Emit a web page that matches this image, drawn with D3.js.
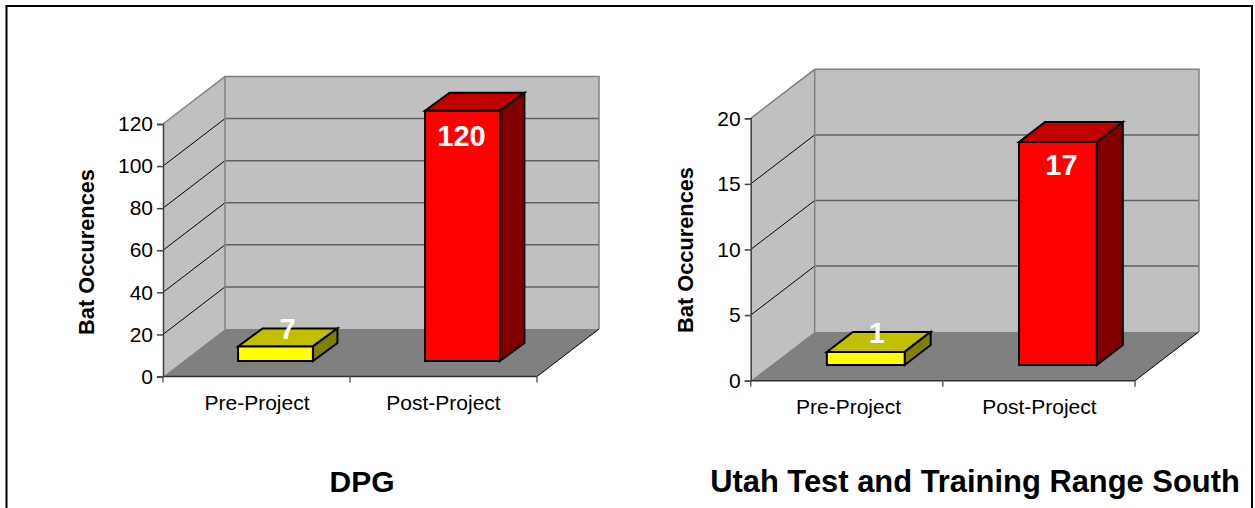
<!DOCTYPE html>
<html><head><meta charset="utf-8">
<script src="https://cdn.jsdelivr.net/npm/d3@7"></script>
<style>html,body{margin:0;padding:0;background:#fff}svg{display:block}text{font-family:"Liberation Sans",Arial,sans-serif}</style>
</head><body><svg id="c" width="1255" height="508"></svg>
<script>
const categories = ["Pre-Project", "Post-Project"];
const dpgValues = [7, 120];
const dpgTicks = [0, 20, 40, 60, 80, 100, 120];
const uttrValues = [1, 17];
const uttrTicks = [0, 5, 10, 15, 20];
const yTitle = "Bat Occurences";
const titleA = "DPG";
const titleB = "Utah Test and Training Range South";

const svg = d3.select("#c");
svg.append("path").attr("d","M6.5,510V6H1252V510").attr("fill","#fff").attr("stroke","#000").attr("stroke-width",2);

function chart(o){
  const g = svg.append("g");
  const x = d3.scaleBand().domain(categories).range([o.x0,o.x1]);
  const y = d3.scaleLinear().domain([0,o.max]).range([o.y0,o.yT]);
  const D = o.dx, H = o.dy;
  const poly = (pts,fill,stroke,sw)=>g.append("polygon").attr("points",pts.map(p=>p.join(",")).join(" ")).attr("fill",fill).attr("stroke",stroke||"none").attr("stroke-width",sw||0).attr("stroke-linejoin","miter");
  const line = (a,b,c,w)=>g.append("line").attr("x1",a[0]).attr("y1",a[1]).attr("x2",b[0]).attr("y2",b[1]).attr("stroke",c).attr("stroke-width",w);
  poly([[o.x0+D,o.yT-H],[o.x1+D,o.yT-H],[o.x1+D,o.y0-H],[o.x0+D,o.y0-H]],"#c0c0c0");
  poly([[o.x0,o.yT],[o.x0+D,o.yT-H],[o.x0+D,o.y0-H],[o.x0,o.y0]],"#c0c0c0");
  poly([[o.x0,o.y0],[o.x1,o.y0],[o.x1+D,o.y0-H],[o.x0+D,o.y0-H]],"#808080");
  o.ticks.slice(1,-1).forEach(t=>{
    line([o.x0,y(t)],[o.x0+D,y(t)-H],"#000",1);
    line([o.x0+D,y(t)-H],[o.x1+D,y(t)-H],"#606060",1.5);
  });
  g.append("path").attr("d",`M${o.x0},${o.yT}L${o.x0+D},${o.yT-H}L${o.x1+D},${o.yT-H}L${o.x1+D},${o.y0-H}`).attr("fill","none").attr("stroke","#808080").attr("stroke-width",1.5);
  line([o.x0+D,o.yT-H],[o.x0+D,o.y0-H],"#808080",1.5);
  line([o.x1,o.y0],[o.x1+D,o.y0-H],"#000",1);
  const yAxis = d3.axisLeft(y).tickValues(o.ticks).tickSize(6).tickPadding(4);
  const ya = g.append("g").attr("transform",`translate(${o.x0},0)`).call(yAxis);
  ya.select(".domain").attr("stroke","#404040").attr("stroke-width",1.5);
  ya.selectAll("line").attr("stroke","#404040").attr("stroke-width",1.5);
  ya.selectAll("text").attr("font-size",21).attr("fill","#000").attr("font-family","Liberation Sans");
  line([o.x0,o.y0],[o.x1,o.y0],"#303030",1.5);
  [o.x0,x(categories[1]),o.x1].forEach(v=>line([v,o.y0],[v,o.y0+6],"#606060",1.5));
  categories.forEach((c,i)=>{
    g.append("text").attr("x",x(c)+x.bandwidth()/2+o.labelShift[i]).attr("y",o.y0+33).attr("text-anchor","middle").attr("font-size",21).attr("fill","#000").text(c);
  });
  const k = o.barH/(o.y0-o.yT);
  const bw = x.bandwidth()*o.barFrac;
  const base = o.y0-o.barLift;
  o.values.forEach((v,i)=>{
    const cx = x(categories[i])+x.bandwidth()/2+o.barShift;
    const l = cx-bw/2, r = cx+bw/2, top = base-(o.y0-y(v))*k;
    const c = i===0?["#ffff00","#c0c000","#808000"]:["#ff0000","#c00000","#800000"];
    poly([[l,top],[r,top],[r+o.bd,top-o.bh],[l+o.bd,top-o.bh]],c[1],"#000",2);
    poly([[r,top],[r+o.bd,top-o.bh],[r+o.bd,base-o.bh],[r,base]],c[2],"#000",2);
    poly([[l,top],[r,top],[r,base],[l,base]],c[0],"#000",2);
    g.append("text").attr("x",cx+o.valShift[i]).attr("y",i===0?o.lowLabelY:top+o.valDrop).attr("text-anchor","middle").attr("font-size",29).attr("font-weight","bold").attr("fill","#fff").text(v);
  });
  g.append("text").attr("transform",`translate(${o.ytx},${o.yty}) rotate(-90)`).attr("text-anchor","middle").attr("font-size",21.8).attr("font-weight","bold").attr("fill","#000").text(yTitle);
  g.append("text").attr("x",o.tx).attr("y",492).attr("text-anchor","middle").attr("font-size",o.titleSize).attr("font-weight","bold").attr("fill","#000").text(o.title);
}
chart({x0:163,x1:537,y0:376.5,yT:124,dx:62,dy:47.5,max:120,ticks:dpgTicks,values:dpgValues,barFrac:0.4,barLift:15.5,barH:250.3,barShift:19,bd:24.5,bh:18,valShift:[12,-1],valDrop:35,lowLabelY:339,labelShift:[0.5,0],ytx:94,yty:252,tx:362,titleSize:30,title:titleA});
chart({x0:750.7,x1:1135,y0:380.7,yT:118.3,dx:64,dy:49,max:20,ticks:uttrTicks,values:uttrValues,barFrac:0.405,barLift:15.7,barH:262.4,barShift:19,bd:26,bh:20,valShift:[11,3.5],valDrop:32.8,lowLabelY:343,labelShift:[1.7,0.5],ytx:693,yty:250,tx:975,titleSize:30.9,title:titleB});
</script></body></html>
